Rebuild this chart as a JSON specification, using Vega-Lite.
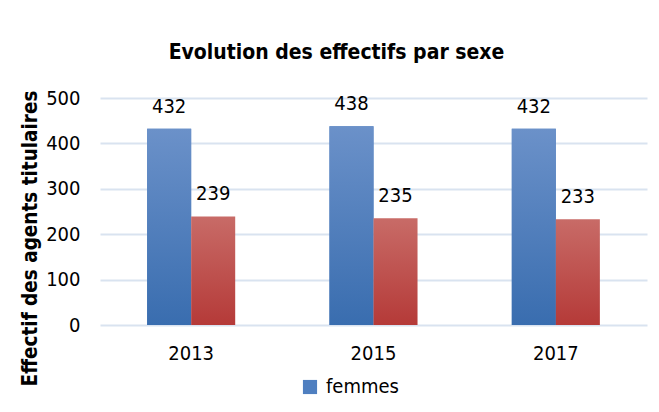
{
  "$schema": "https://vega.github.io/schema/vega-lite/v6.json",
  "autosize": {"type": "none"},
  "width": 547,
  "height": 227,
  "padding": {"left": 100, "top": 98, "right": 12, "bottom": 87},
  "background": "white",
  "config": {
    "font": "DejaVu Sans Condensed, sans-serif",
    "view": {"stroke": null}
  },
  "title": {
    "text": "Evolution des effectifs par sexe",
    "fontSize": 21,
    "fontWeight": "bold",
    "color": "#000000",
    "anchor": "middle",
    "dx": -37,
    "offset": 25
  },
  "data": {
    "values": [
      {"annee": "2013", "sexe": "femmes", "effectif": 432},
      {"annee": "2013", "sexe": "hommes", "effectif": 239},
      {"annee": "2015", "sexe": "femmes", "effectif": 438},
      {"annee": "2015", "sexe": "hommes", "effectif": 235},
      {"annee": "2017", "sexe": "femmes", "effectif": 432},
      {"annee": "2017", "sexe": "hommes", "effectif": 233}
    ]
  },
  "encoding": {
    "x": {
      "field": "annee",
      "type": "nominal",
      "scale": {"paddingInner": 0.517, "paddingOuter": 0.2585},
      "axis": {
        "title": null,
        "labelAngle": 0,
        "labelFontSize": 20,
        "labelColor": "#000000",
        "labelPadding": 18,
        "ticks": false,
        "domain": false
      }
    },
    "xOffset": {"field": "sexe", "type": "nominal", "scale": {"domain": ["femmes", "hommes"]}},
    "y": {
      "field": "effectif",
      "type": "quantitative",
      "scale": {"domain": [0, 500]},
      "axis": {
        "title": "Effectif des agents titulaires",
        "titleFontSize": 20.5,
        "titleFontWeight": "bold",
        "titleColor": "#000000",
        "titleX": -70,
        "titleY": 140,
        "titleAlign": "center",
        "titleBaseline": "middle",
        "titleAngle": -90,
        "values": [0, 100, 200, 300, 400, 500],
        "labelFontSize": 20,
        "labelColor": "#000000",
        "labelPadding": 20,
        "ticks": false,
        "domain": false,
        "gridColor": "#d9e3f0",
        "gridWidth": 2
      }
    }
  },
  "layer": [
    {
      "transform": [{"filter": "datum.sexe === 'femmes'"}],
      "mark": {"type": "bar"},
      "encoding": {
        "color": {
          "field": "sexe",
          "type": "nominal",
          "scale": {"domain": ["femmes"], "range": ["#4f7fc0"]},
          "legend": {
            "title": null,
            "orient": "none",
            "legendX": 200,
            "legendY": 279,
            "symbolType": "square",
            "symbolSize": 200,
            "labelFontSize": 20,
            "labelColor": "#000000",
            "labelOffset": 6
          }
        }
      }
    },
    {
      "mark": {"type": "bar"},
      "encoding": {
        "fill": {
          "condition": {
            "test": "datum.sexe === 'femmes'",
            "value": {
              "gradient": "linear", "x1": 0, "y1": 0, "x2": 0, "y2": 1,
              "stops": [{"offset": 0, "color": "#6b91c9"}, {"offset": 1, "color": "#396daf"}]
            }
          },
          "value": {
            "gradient": "linear", "x1": 0, "y1": 0, "x2": 0, "y2": 1,
            "stops": [{"offset": 0, "color": "#c86b67"}, {"offset": 1, "color": "#b53a38"}]
          }
        }
      }
    },
    {
      "mark": {"type": "text", "fontSize": 20, "baseline": "alphabetic", "dy": -16, "color": "#000000"},
      "encoding": {"text": {"field": "effectif", "type": "quantitative"}}
    }
  ]
}
